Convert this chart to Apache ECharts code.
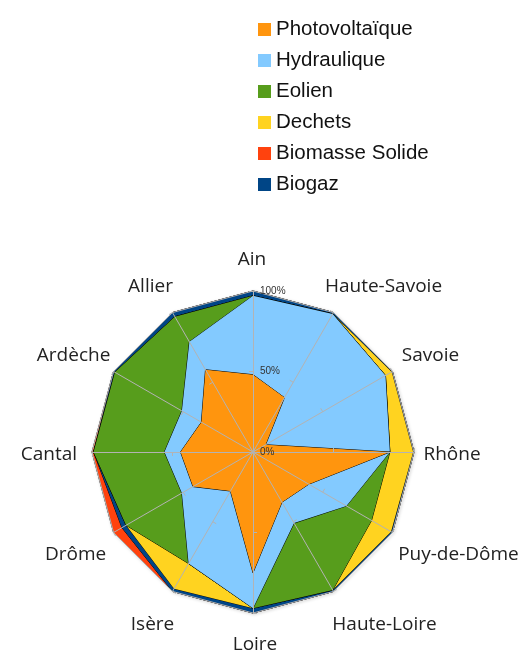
<!DOCTYPE html>
<html><head><meta charset="utf-8">
<script src="https://cdn.jsdelivr.net/npm/echarts@6/dist/echarts.min.js"></script>
<style>html,body{margin:0;padding:0;background:#fff}#c{width:519px;height:651px}</style>
</head><body><div id="c"></div>
<script>
// Categories in clockwise order starting at the top
const categories = ['Ain','Haute-Savoie','Savoie','Rhône','Puy-de-Dôme','Haute-Loire','Loire','Isère','Drôme','Cantal','Ardèche','Allier'];
// Shares in percent
const photovoltaique = [48, 39, 9, 85, 40, 36, 75, 28, 43, 45, 37, 59];
const hydraulique    = [49, 60, 86, 0, 27, 15, 22, 52, 8, 10, 14, 20];
const eolien         = [0, 0, 0, 0, 18, 48, 0, 0, 40, 44, 48, 18];
const dechets        = [0, 0, 4.5, 14.5, 14, 0, 0, 18, 0, 0, 0, 0];
const biomasse       = [0, 0, 0, 0, 0, 0, 0, 0, 6, 1, 0, 0];
const biogaz         = [3, 1, 0.5, 0.5, 1, 1, 3, 2, 3, 0, 1, 3];
const radiusTicks    = [0, 50, 100];

const legendNames = ['Photovoltaïque','Hydraulique','Eolien','Dechets','Biomasse Solide','Biogaz'];
const colors = {
  'Photovoltaïque':'#ff950e','Hydraulique':'#83caff','Eolien':'#579d1c',
  'Dechets':'#ffd320','Biomasse Solide':'#ff420e','Biogaz':'#004586'
};
// stacking order from the centre outwards
const layers = [
  ['Photovoltaïque', photovoltaique], ['Hydraulique', hydraulique], ['Eolien', eolien],
  ['Dechets', dechets], ['Biogaz', biogaz], ['Biomasse Solide', biomasse]
];

// label offsets (style only): [dx, dy] from the axis end
const labelOffset = {
  'Ain':[-1,-31],'Haute-Savoie':[50,-26],'Savoie':[38,-16],'Rhône':[38,3],
  'Puy-de-Dôme':[66,22],'Haute-Loire':[51,33],'Loire':[2,32],'Isère':[-20,33],
  'Drôme':[-38,22],'Cantal':[-43,3],'Ardèche':[-40,-16],'Allier':[-22,-26]
};

// ECharts radar runs counter-clockwise: reorder so the picture runs clockwise
const n = categories.length;
const order = categories.map((_, i) => (n - i) % n);

let run = new Array(n).fill(0);
const cumLayers = layers.map(([name, vals]) => {
  run = run.map((r, i) => r + vals[i]);
  return { name, cum: run.slice() };
});

const rich = {};
categories.forEach((c, i) => {
  const [dx, dy] = labelOffset[c];
  rich['n' + i] = {
    fontSize: 19, fontFamily: 'Open Sans', color: '#222',
    padding: [Math.max(0, 2*dy), Math.max(0, -2*dx), Math.max(0, -2*dy), Math.max(0, 2*dx)]
  };
});

const series = cumLayers.slice().reverse().map((l, k) => ({
  type: 'radar',
  name: l.name,
  color: colors[l.name],
  symbol: 'none',
  silent: true,
  z: 2,
  lineStyle: Object.assign({ color: '#000', width: 1 },
    k === 0 ? { shadowBlur: 3, shadowColor: 'rgba(0,0,0,0.35)', shadowOffsetX: 1, shadowOffsetY: 1 } : {}),
  areaStyle: { color: colors[l.name], opacity: 1 },
  itemStyle: { color: colors[l.name] },
  data: [{ name: l.name, value: order.map(i => l.cum[i]) }]
}));

const chart = echarts.init(document.getElementById('c'));
chart.setOption({
  backgroundColor: '#fff',
  animation: false,
  legend: {
    orient: 'vertical', left: 253, top: 14,
    itemWidth: 13, itemHeight: 13, itemGap: 10, itemTextGap: 6, icon: 'rect',
    textStyle: { fontSize: 20.5, fontFamily: 'Liberation Sans', color: '#111' },
    data: legendNames.map(nm => ({ name: nm, itemStyle: { color: colors[nm], borderWidth: 0 } }))
  },
  radar: {
    z: 3,
    center: [253, 452], radius: 161, startAngle: 90, shape: 'polygon',
    splitNumber: 2,
    indicator: order.map(i => ({ name: categories[i], min: 0, max: 100 })),
    nameGap: 0,
    axisName: {
      formatter: (name) => '{n' + categories.indexOf(name) + '|' + name + '}',
      rich, align: 'center', verticalAlign: 'middle',
      fontSize: 19, fontFamily: 'Open Sans', color: '#222'
    },
    axisLine: { lineStyle: { color: '#b3b3b3', width: 1 } },
    axisTick: { show: true, length: 4, lineStyle: { color: '#b3b3b3', width: 1 } },
    splitLine: { show: true, lineStyle: { color: ['rgba(0,0,0,0)','rgba(0,0,0,0)','#b3b3b3'], width: 1 } },
    splitArea: { show: false },
    axisLabel: { show: false }
  },
  polar: { center: [253, 452], radius: 161 },
  angleAxis: { show: false, startAngle: 90, min: 0, max: 360 },
  radiusAxis: {
    min: radiusTicks[0], max: radiusTicks[radiusTicks.length - 1], interval: radiusTicks[1] - radiusTicks[0],
    z: 4,
    axisLine: { show: false }, axisTick: { show: false }, splitLine: { show: false },
    axisLabel: { formatter: v => v + '%', fontSize: 10, color: '#333', fontFamily: 'Liberation Sans',
      margin: -7, align: 'left', verticalAlign: 'middle' }
  },
  series
});
</script></body></html>
